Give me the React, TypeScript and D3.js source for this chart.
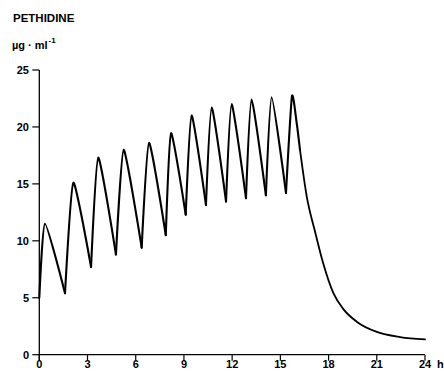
import React from "react";
import * as d3 from "d3";

// Troughs (start of each dose cycle), hours and µg/ml
const troughTimes = [0, 1.6, 3.22, 4.77, 6.37, 7.87, 9.11, 10.37, 11.62, 12.86, 14.1, 15.35];
const troughValues = [5.0, 5.4, 7.7, 8.8, 9.4, 10.5, 12.3, 13.15, 13.45, 13.75, 14.0, 14.2];
// Peaks after each dose
const peakTimes = [0.35, 2.12, 3.67, 5.25, 6.83, 8.2, 9.48, 10.73, 11.97, 13.21, 14.46, 15.72];
const peakValues = [11.5, 15.1, 17.3, 18.0, 18.6, 19.45, 21.0, 21.7, 22.0, 22.4, 22.6, 22.7];
// Wash-out after the last dose
const washoutTimes = [16.02, 16.22, 16.64, 17.16, 17.67, 18.3, 18.92, 19.75, 21.0, 22.45, 24.0];
const washoutValues = [20.3, 18.0, 13.9, 10.8, 8.0, 5.4, 4.0, 2.9, 2.0, 1.55, 1.35];

const xTicks = [0, 3, 6, 9, 12, 15, 18, 21, 24];
const yTicks = [0, 5, 10, 15, 20, 25];

const W = 444;
const H = 378;

export default function App() {
  const x = d3.scaleLinear().domain([0, 24]).range([39.3, 425]);
  const y = d3.scaleLinear().domain([0, 25]).range([354.7, 70]);

  const line = d3
    .line<[number, number]>()
    .x((d) => x(d[0]))
    .y((d) => y(d[1]))
    .curve(d3.curveCardinal.tension(0.45));

  const smooth = d3
    .line<[number, number]>()
    .x((d) => x(d[0]))
    .y((d) => y(d[1]))
    .curve(d3.curveMonotoneX);

  const pieces: [number, number][][] = [];
  for (let i = 0; i < peakTimes.length; i++) {
    const pts: [number, number][] = [
      [troughTimes[i], troughValues[i]],
      [peakTimes[i], peakValues[i]],
    ];
    if (i + 1 < troughTimes.length) {
      pts.push([troughTimes[i + 1], troughValues[i + 1]]);
    } else {
      pts.push([washoutTimes[0], washoutValues[0]]);
      pts.push([washoutTimes[1], washoutValues[1]]);
    }
    pieces.push(pts);
  }
  const washout: [number, number][] = washoutTimes
    .slice(1)
    .map((t, k) => [t, washoutValues[k + 1]] as [number, number]);

  const font = "'Liberation Sans', Arial, sans-serif";

  return (
    <svg
      width={W}
      height={H}
      style={{ position: "absolute", left: 0, top: 0, background: "#fff" }}
      fontFamily={font}
    >
      <rect width={W} height={H} fill="#fff" />
      <text x={13} y={22} fontSize={11.5} fontWeight={700} fill="#000">
        PETHIDINE
      </text>
      <text x={12} y={49} fontSize={11} fontWeight={700} fill="#000">
        µg · ml
      </text>
      <text x={48.5} y={43} fontSize={8} fontWeight={700} fill="#000">
        -1
      </text>

      {/* axes */}
      <line x1={x(0)} x2={x(0)} y1={y(25)} y2={y(0) + 6} stroke="#000" strokeWidth={1.3} />
      <line x1={x(0)} x2={x(24)} y1={y(0)} y2={y(0)} stroke="#000" strokeWidth={1.3} />
      {yTicks.map((t) => (
        <g key={"y" + t}>
          <line x1={x(0) - 7} x2={x(0)} y1={y(t)} y2={y(t)} stroke="#000" strokeWidth={1.2} />
          <text
            x={29}
            y={y(t) + 4}
            fontSize={11}
            fontWeight={700}
            textAnchor="end"
            fill="#000"
          >
            {t}
          </text>
        </g>
      ))}
      {xTicks.map((t) => (
        <g key={"x" + t}>
          <line x1={x(t)} x2={x(t)} y1={y(0)} y2={y(0) + 6} stroke="#000" strokeWidth={1.2} />
          <text
            x={x(t)}
            y={367.5}
            fontSize={11}
            fontWeight={700}
            textAnchor="middle"
            fill="#000"
          >
            {t}
          </text>
        </g>
      ))}
      <text x={437} y={367.5} fontSize={11} fontWeight={700} fill="#000">
        h
      </text>

      {pieces.map((p, i) => (
        <path
          key={i}
          d={line(p) || ""}
          fill="none"
          stroke="#000"
          strokeWidth={2.1}
          strokeLinecap="round"
          strokeLinejoin="round"
        />
      ))}
      <path
        d={smooth(washout) || ""}
        fill="none"
        stroke="#000"
        strokeWidth={1.8}
        strokeLinecap="round"
        strokeLinejoin="round"
      />
    </svg>
  );
}
